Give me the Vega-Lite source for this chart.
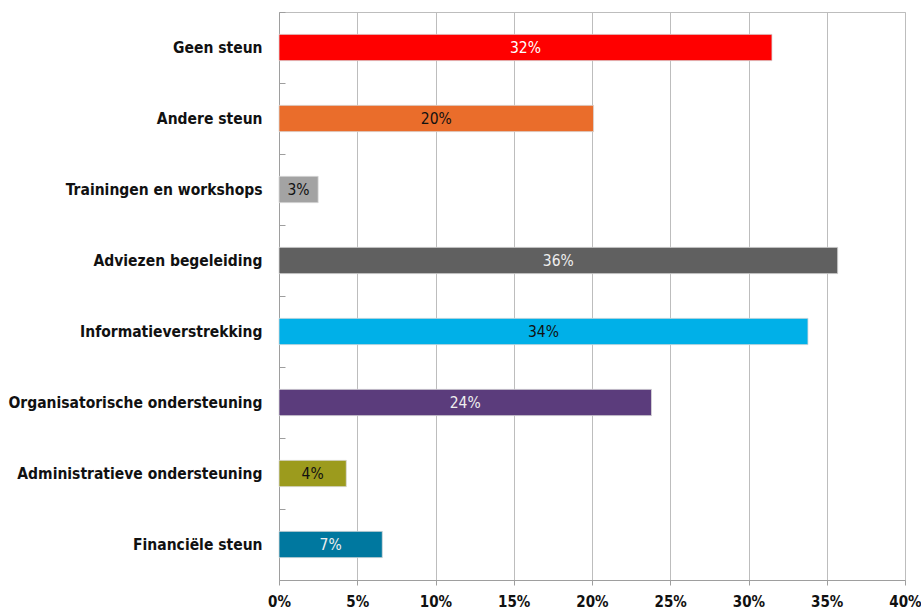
{
  "$schema": "https://vega.github.io/schema/vega-lite/v6.json",
  "width": 626,
  "height": 568,
  "autosize": {"type": "none"},
  "padding": {"left": 279, "top": 12, "right": 16, "bottom": 31},
  "background": "white",
  "config": {
    "view": {"stroke": "#bdbdbd", "strokeWidth": 1},
    "font": "DejaVu Sans Condensed"
  },
  "data": {
    "values": [
      {"categorie": "Geen steun", "waarde": 31.5, "label": "32%"},
      {"categorie": "Andere steun", "waarde": 20.1, "label": "20%"},
      {"categorie": "Trainingen en workshops", "waarde": 2.5, "label": "3%"},
      {"categorie": "Adviezen begeleiding", "waarde": 35.7, "label": "36%"},
      {"categorie": "Informatieverstrekking", "waarde": 33.8, "label": "34%"},
      {"categorie": "Organisatorische ondersteuning", "waarde": 23.8, "label": "24%"},
      {"categorie": "Administratieve ondersteuning", "waarde": 4.3, "label": "4%"},
      {"categorie": "Financiële steun", "waarde": 6.6, "label": "7%"}
    ]
  },
  "encoding": {
    "y": {
      "field": "categorie",
      "type": "nominal",
      "sort": null,
      "title": null,
      "scale": {"paddingInner": 0, "paddingOuter": 0},
      "axis": {
        "domainColor": "#9e9e9e",
        "tickColor": "#9e9e9e",
        "tickBand": "extent",
        "tickSize": -6,
        "labelPadding": 23,
        "labelLimit": 400,
        "labelFontSize": 15.5,
        "labelFont": "DejaVu Sans Condensed",
        "labelColor": "#111111",
        "labelFontWeight": "bold"
      }
    }
  },
  "layer": [
    {
      "mark": {"type": "bar", "stroke": "#d8d8d8", "strokeWidth": 0.8, "height": {"band": 0.37}},
      "encoding": {
        "x": {
          "field": "waarde",
          "type": "quantitative",
          "title": null,
          "scale": {"domain": [0, 40], "nice": false},
          "axis": {
            "values": [0, 5, 10, 15, 20, 25, 30, 35, 40],
            "labelExpr": "datum.value + '%'",
            "domainColor": "#9e9e9e",
            "tickColor": "#9e9e9e",
            "tickSize": 5,
            "gridColor": "#bdbdbd",
            "grid": true,
            "labelPadding": 9,
            "labelFontSize": 15,
            "labelFontWeight": "bold",
            "labelColor": "#111111",
            "labelFlush": false
          }
        },
        "color": {
          "field": "categorie",
          "type": "nominal",
          "legend": null,
          "scale": {
            "domain": ["Geen steun", "Andere steun", "Trainingen en workshops", "Adviezen begeleiding", "Informatieverstrekking", "Organisatorische ondersteuning", "Administratieve ondersteuning", "Financiële steun"],
            "range": ["#ff0000", "#ea6d2b", "#a3a3a3", "#606060", "#00b0e8", "#5b3c7c", "#9c9b1d", "#00789f"]
          }
        }
      }
    },
    {
      "mark": {"type": "text", "fontSize": 15.5, "baseline": "middle", "align": "center"},
      "encoding": {
        "x": {
          "field": "waarde",
          "type": "quantitative",
          "scale": {"domain": [0, 80], "nice": false},
          "axis": null
        },
        "text": {"field": "label"},
        "color": {
          "field": "categorie",
          "type": "nominal",
          "legend": null,
          "scale": {
            "domain": ["Geen steun", "Andere steun", "Trainingen en workshops", "Adviezen begeleiding", "Informatieverstrekking", "Organisatorische ondersteuning", "Administratieve ondersteuning", "Financiële steun"],
            "range": ["#ffffff", "#111111", "#111111", "#eeeeee", "#111111", "#eeeeee", "#111111", "#eeeeee"]
          }
        }
      }
    }
  ],
  "resolve": {"scale": {"color": "independent", "x": "independent"}}
}
